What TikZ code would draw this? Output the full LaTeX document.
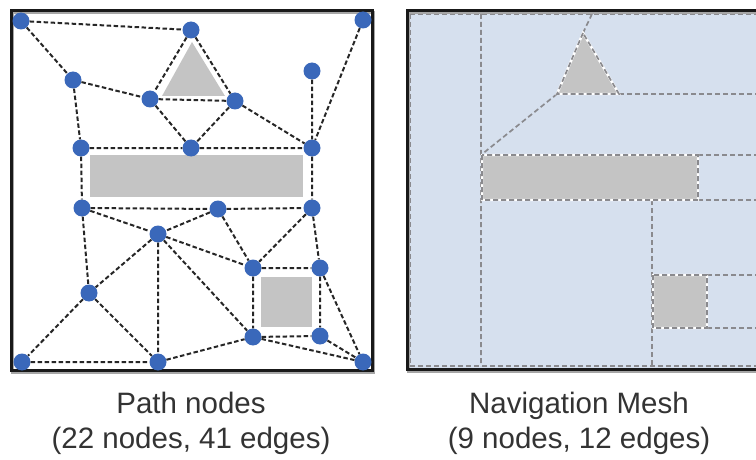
\documentclass[tikz,border=0pt]{standalone}
\usepackage{fontspec}
\setmainfont{Liberation Sans}
\usetikzlibrary{calc}
\definecolor{nodeblue}{RGB}{58,104,186}
\definecolor{obstgray}{RGB}{196,196,196}
\definecolor{meshbg}{RGB}{214,224,238}
\definecolor{meshline}{RGB}{138,138,142}
\tikzset{pn/.style={circle,fill=nodeblue,inner sep=0pt,minimum size=17pt},
 lnk/.style={black!85,line width=2pt,dash pattern=on 4.5pt off 2.5pt},
 obs/.style={fill=obstgray},
 msh/.style={meshline,line width=1.7pt,dash pattern=on 5pt off 3pt},
 rimw/.style={white,line width=2.4pt},
 frm/.style={black!90,line width=3pt},
 shd/.style={black!35,line width=3pt},
 lbl/.style={anchor=base,text=black!80,font=\fontsize{29.5}{35}\selectfont}}
\begin{document}
\begin{tikzpicture}[x=1pt,y=-1pt]
\useasboundingbox (0,0) rectangle (756,460);
\clip (0,0) rectangle (756,460);
% path nodes panel
\draw[shd] (12.5,13) rectangle (373.5,372);
\draw[frm] (11,11) rectangle (372,370);
\fill[obs] (192,42)--(162,96)--(225,96)--cycle;
\fill[obs] (90,155) rectangle (303,197);
\fill[obs] (261,277) rectangle (312,327);
\node[pn](n1) at (21,21){};\node[pn](n2) at (191,30){};\node[pn](n3) at (363,20){};
\node[pn](n4) at (73,80){};\node[pn](n5) at (150,99){};\node[pn](n6) at (235,101){};
\node[pn](n7) at (312,71){};
\node[pn](n8) at (81,148){};\node[pn](n9) at (191,148){};\node[pn](n10) at (312,148){};
\node[pn](n11) at (82,208){};\node[pn](n12) at (218,209){};\node[pn](n13) at (312,208){};
\node[pn](n14) at (158,234){};
\node[pn](n15) at (253,268){};\node[pn](n16) at (320,268){};
\node[pn](n17) at (89,293){};
\node[pn](n18) at (253,337){};\node[pn](n19) at (320,336){};
\node[pn](n20) at (22,362){};\node[pn](n21) at (158,362){};\node[pn](n22) at (363,362){};
\draw[lnk] (n1)--(n2) (n1)--(n4) (n2)--(n5) (n2)--(n6) (n3)--(n10) (n4)--(n5) (n4)--(n8)
 (n5)--(n6) (n5)--(n9) (n6)--(n9) (n6)--(n10) (n7)--(n10) (n8)--(n9) (n9)--(n10)
 (n8)--(n11) (n10)--(n13);
\draw[lnk] (n11)--(n12) (n12)--(n13) (n11)--(n14) (n12)--(n14) (n11)--(n17) (n14)--(n17)
 (n14)--(n21) (n14)--(n15) (n14)--(n18) (n12)--(n15) (n13)--(n15) (n13)--(n16)
 (n15)--(n16) (n15)--(n18) (n16)--(n19) (n18)--(n19) (n16)--(n22) (n19)--(n22)
 (n18)--(n22) (n17)--(n20) (n17)--(n21) (n20)--(n21) (n21)--(n18);
% navigation mesh panel
\fill[meshbg] (407,11) rectangle (790,369);
\draw[msh] (410,14)--(790,14) (410,14)--(410,366)--(790,366);
\draw[msh] (481,14)--(481,366) (592,14)--(583,33) (557,94)--(481,155);
\draw[msh] (619,94)--(790,94) (698,155)--(790,155) (698,200)--(790,200);
\draw[msh] (652,200)--(652,366) (707,275)--(790,275) (707,328)--(790,328);
\fill[obs] (583,33)--(557,94)--(619,94)--cycle;
\fill[obs] (482,155) rectangle (698,200);
\fill[obs] (653,275) rectangle (707,328);
\draw[rimw] (583,33)--(557,94)--(619,94)--cycle (482,155) rectangle (698,200)
 (653,275) rectangle (707,328);
\draw[msh] (583,33)--(557,94)--(619,94)--cycle (482,155) rectangle (698,200)
 (653,275) rectangle (707,328);
\draw[shd] (408.5,13) rectangle (792,371);
\draw[frm] (407,11) rectangle (790,369);
% captions
\node[lbl](pl1) at (191,413){Path nodes};
\node[lbl](pl2) at (191,448){(22 nodes, 41 edges)};
\node[lbl](ml1) at (579,413){Navigation Mesh};
\node[lbl](ml2) at (579,448){(9 nodes, 12 edges)};
\end{tikzpicture}
\end{document}
